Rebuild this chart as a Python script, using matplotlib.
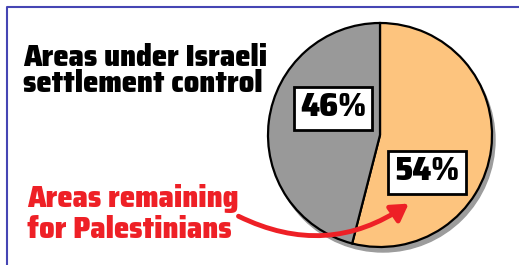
import matplotlib.pyplot as plt
from matplotlib.patches import Circle, FancyArrowPatch

shares = [54, 46]
share_labels = ["54%", "46%"]
wedge_colors = ["#FDC47E", "#999999"]
title_lines = ["Areas under Israeli", "settlement control"]
note_lines = ["Areas remaining", "for Palestinians"]

W, H = 519, 265
fig = plt.figure(figsize=(W / 100, H / 100), dpi=100)
ax = fig.add_axes([0, 0, 1, 1])

font = ["Saira SemiCondensed", "DejaVu Sans"]

cx, cy, r = 380, 130, 112
ax.add_patch(Circle((cx + 3, cy - 5), r, color="#9c9c9c", zorder=1))
ax.pie(shares, colors=wedge_colors, startangle=90, counterclock=False,
       center=(cx, cy), radius=r, frame=True,
       wedgeprops=dict(edgecolor="black", linewidth=1.6, zorder=2))
ax.set_xlim(0, W)
ax.set_ylim(0, H)
ax.axis("off")

# blue frame (top + left)
ax.plot([6.5, 6.5, W], [0, H - 6.5, H - 6.5], color="#4646B4", lw=1.5,
        solid_capstyle="butt")

renderer = fig.canvas.get_renderer()


def block(x, y, lines, width, pitch, color, maxsize=22):
    # size the block to the wanted width, then set the line pitch
    one = ax.text(0, 0, lines[0], fontsize=20, family=font, fontweight=900)
    two = ax.text(0, 0, "\n".join(lines), fontsize=20, family=font,
                  fontweight=900, linespacing=1.0)
    w = two.get_window_extent(renderer).width
    size = min(maxsize, 20 * width / w)
    one.set_fontsize(size)
    two.set_fontsize(size)
    step = (two.get_window_extent(renderer).height
            - one.get_window_extent(renderer).height)
    one.remove()
    two.remove()
    # y is the baseline of the last line
    return ax.text(x, y, "\n".join(lines), ha="left", va="baseline",
                   fontsize=size, family=font, fontweight=900, color=color,
                   linespacing=pitch / step, zorder=5)


# percent boxes
for lab, (bx, by) in zip(share_labels, [(427, 93), (333, 157)]):
    ax.text(bx, by, lab, ha="center", va="center", fontsize=24,
            family=font, fontweight=900, zorder=5,
            bbox=dict(boxstyle="square,pad=0.18", fc="white", ec="black",
                      lw=2))

block(23, H - 92, title_lines, 254, 25, "black")
block(27, H - 238, note_lines, 216, 31, "#EE2026")

arrow = FancyArrowPatch((236, 50), (411, 63), connectionstyle="arc3,rad=0.3",
                        arrowstyle="-|>,head_length=10,head_width=6",
                        color="#EE2026", lw=3.5, zorder=6)
ax.add_patch(arrow)

fig.savefig("out.png", dpi=100)
